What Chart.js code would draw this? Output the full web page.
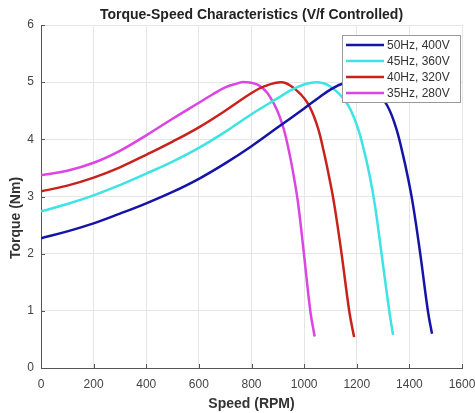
<!DOCTYPE html>
<html><head><meta charset="utf-8">
<script src="https://cdn.jsdelivr.net/npm/chart.js@4.4.1/dist/chart.umd.min.js"></script>
<style>html,body{margin:0;padding:0;background:#fff}#wrap{width:475px;height:413px;position:relative}</style>
</head><body><div id="wrap"><canvas id="c"></canvas></div>
<script>
const chartTitle = 'Torque-Speed Characteristics (V/f Controlled)';
const xTitle = 'Speed (RPM)';
const yTitle = 'Torque (Nm)';
const seriesLabels = ['50Hz, 400V', '45Hz, 360V', '40Hz, 320V', '35Hz, 280V'];
const seriesColors = ['#1414a6', '#3fe3e3', '#c8221c', '#dc44e4'];

const speed50  = [0, 100, 200, 300, 400, 500, 600, 700, 800, 900, 1000, 1050, 1100, 1150, 1200, 1250, 1308, 1346, 1373, 1395, 1414, 1441, 1471, 1486];
const torque50 = [2.27, 2.39, 2.53, 2.70, 2.88, 3.08, 3.31, 3.58, 3.88, 4.21, 4.54, 4.71, 4.87, 4.98, 5.0, 4.92, 4.65, 4.25, 3.78, 3.32, 2.85, 2.01, 0.98, 0.60];

const speed45  = [0, 100, 200, 300, 400, 500, 600, 700, 800, 900, 950, 1000, 1050, 1098, 1160, 1200, 1229, 1251, 1269, 1294, 1324, 1338];
const torque45 = [2.74, 2.87, 3.02, 3.20, 3.40, 3.61, 3.85, 4.13, 4.44, 4.72, 4.86, 4.96, 5.0, 4.93, 4.65, 4.25, 3.78, 3.32, 2.85, 2.01, 0.98, 0.58];

const speed40  = [0, 100, 200, 300, 400, 500, 600, 700, 800, 850, 916, 960, 1011, 1049, 1075, 1096, 1115, 1142, 1172, 1190];
const torque40 = [3.09, 3.19, 3.33, 3.51, 3.73, 3.96, 4.21, 4.50, 4.81, 4.93, 5.0, 4.90, 4.65, 4.25, 3.78, 3.32, 2.85, 2.01, 0.98, 0.54];

const speed35  = [0, 100, 200, 300, 400, 500, 600, 650, 700, 740, 775, 833, 882, 918, 943, 962, 978, 999, 1024, 1040];
const torque35 = [3.37, 3.45, 3.59, 3.80, 4.07, 4.36, 4.64, 4.78, 4.91, 4.97, 5.0, 4.93, 4.65, 4.25, 3.78, 3.32, 2.85, 2.01, 0.98, 0.55];

const xTicks = [0, 200, 400, 600, 800, 1000, 1200, 1400, 1600];
const yTicks = [0, 1, 2, 3, 4, 5, 6];

const allSpeeds = [speed50, speed45, speed40, speed35];
const allTorques = [torque50, torque45, torque40, torque35];

const FONT = '"Liberation Sans", Arial, Helvetica, sans-serif';

const datasets = seriesLabels.map((lab, i) => ({
  label: lab,
  data: allSpeeds[i].map((s, j) => ({x: s, y: allTorques[i][j]})),
  borderColor: seriesColors[i],
  backgroundColor: seriesColors[i],
  borderWidth: 2.5,
  pointRadius: 0,
  fill: false,
  tension: 0.4
}));

const decor = {
  id: 'decor',
  afterDraw(chart) {
    const ctx = chart.ctx;
    const xs = chart.scales.x, ys = chart.scales.y;
    const a = chart.chartArea;
    ctx.save();
    ctx.strokeStyle = '#555';
    ctx.lineWidth = 1;
    ctx.beginPath();
    xTicks.forEach(v => {
      const px = Math.round(xs.getPixelForValue(v)) + 0.5;
      ctx.moveTo(px, a.bottom); ctx.lineTo(px, a.bottom - 4);
    });
    yTicks.forEach(v => {
      const py = Math.round(ys.getPixelForValue(v)) + 0.5;
      ctx.moveTo(a.left, py); ctx.lineTo(a.left + 4, py);
    });
    ctx.stroke();
    ctx.fillStyle = '#222';
    ctx.font = 'bold 14px ' + FONT;
    ctx.textAlign = 'center';
    ctx.textBaseline = 'middle';
    ctx.fillText(chartTitle, (a.left + a.right) / 2, 15);
    ctx.fillStyle = '#333';
    ctx.fillText(xTitle, (a.left + a.right) / 2, 404);
    ctx.save();
    ctx.translate(16, 218);
    ctx.rotate(-Math.PI / 2);
    ctx.fillText(yTitle, 0, 0);
    ctx.restore();
    const bx = 342.5, by = 35.5, bw = 118, bh = 67;
    ctx.fillStyle = '#fff';
    ctx.fillRect(bx, by, bw, bh);
    ctx.strokeStyle = '#999';
    ctx.lineWidth = 1;
    ctx.strokeRect(bx, by, bw, bh);
    ctx.font = '12px ' + FONT;
    ctx.textAlign = 'left';
    ctx.textBaseline = 'middle';
    chart.data.datasets.forEach((ds, i) => {
      const ry = 45 + i * 16;
      ctx.strokeStyle = ds.borderColor;
      ctx.lineWidth = 2.5;
      ctx.beginPath();
      ctx.moveTo(346, ry); ctx.lineTo(384, ry);
      ctx.stroke();
      ctx.fillStyle = '#333';
      ctx.fillText(ds.label, 387, ry + 1);
    });
    ctx.restore();
  }
};

new Chart(document.getElementById('c'), {
  type: 'line',
  data: { datasets },
  options: {
    responsive: true,
    maintainAspectRatio: false,
    animation: false,
    layout: { padding: { top: 25, right: 13, left: 0, bottom: 0 } },
    plugins: { legend: { display: false }, title: { display: false }, tooltip: { enabled: false } },
    scales: {
      x: {
        type: 'linear', min: 0, max: 1600,
        afterBuildTicks(s) { s.ticks = xTicks.map(v => ({value: v})); },
        afterFit(s) { s.height = 45; s.paddingRight = 0; s.paddingLeft = 0; },
        ticks: { font: { family: FONT, size: 12 }, color: '#444', padding: 9, maxRotation: 0, autoSkip: false, callback: v => String(v) },
        grid: { color: '#e6e6e6', drawTicks: false, lineWidth: 1 },
        border: { color: '#555', width: 1 }
      },
      y: {
        type: 'linear', min: 0, max: 6,
        afterBuildTicks(s) { s.ticks = yTicks.map(v => ({value: v})); },
        afterFit(s) { s.width = 41; s.paddingTop = 0; s.paddingBottom = 0; },
        ticks: { font: { family: FONT, size: 12 }, color: '#444', padding: 7, callback: v => String(v) },
        grid: { color: '#e6e6e6', drawTicks: false, lineWidth: 1 },
        border: { color: '#555', width: 1 }
      }
    }
  },
  plugins: [decor]
});
</script>
</body></html>
